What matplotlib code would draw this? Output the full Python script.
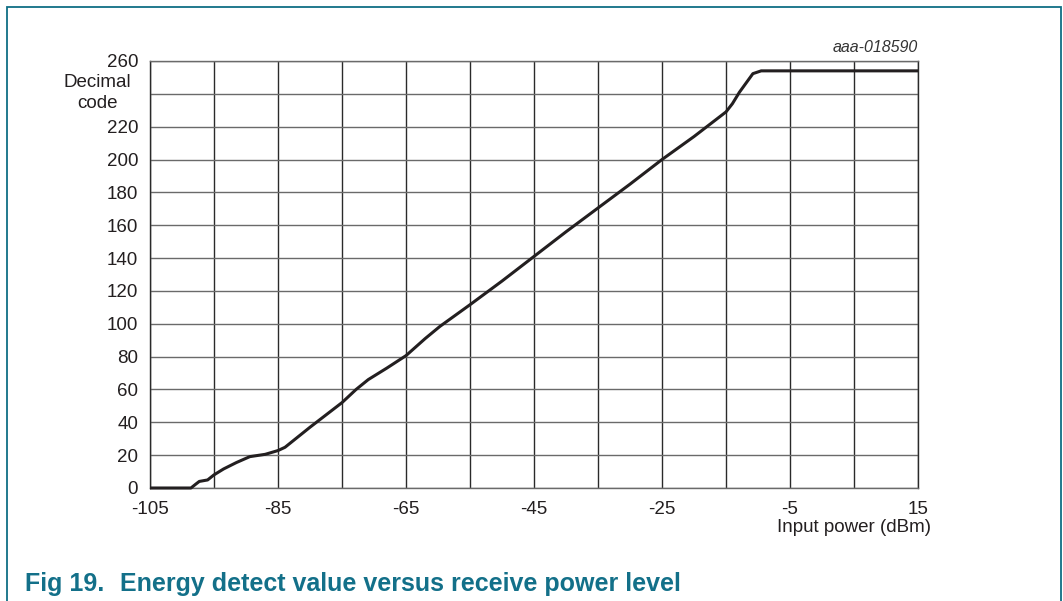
import matplotlib
matplotlib.use("Agg")
import matplotlib.pyplot as plt
from matplotlib.patches import Rectangle

plt.rcParams['font.family'] = ['Liberation Sans', 'DejaVu Sans']

# Data
power_dbm = [-105, -98.6, -97.8, -97.3, -96.0, -95.0, -93.5, -91.5, -89.4, -87.0,
             -85.0, -83.9, -80.0, -75.0, -72.8, -70.9, -68.0, -65.0, -62.0, -59.7,
             -55.0, -50.0, -45.0, -40.0, -35.0, -30.0, -25.0, -20.0, -18.0, -15.0,
             -14.0, -12.9, -10.8, -9.5, -8.5, 15.0]
decimal_code = [0, 0, 2.5, 4, 4.9, 8, 11.6, 15.5, 19.1, 20.5,
                22.8, 24.8, 37, 52, 60, 66, 73, 80.6, 91, 98.4,
                111.6, 126, 141, 156, 170.5, 185, 200, 214, 220, 229,
                234, 241, 252.3, 254, 254, 254]

x_ticks = list(range(-105, 16, 10))
x_labels = ['-105', '', '-85', '', '-65', '', '-45', '', '-25', '', '-5', '', '15']
y_ticks = list(range(0, 261, 20))
y_labels = ['0', '20', '40', '60', '80', '100', '120', '140', '160', '180', '200', '220', '', '260']

W, H = 1063, 601
fig = plt.figure(figsize=(W / 100, H / 100), dpi=100)

def fx(px):
    return px / W

def fy(py):
    return 1 - py / H

ax = fig.add_axes([fx(150), fy(488), (918 - 150) / W, (488 - 61) / H])
ax.set_xlim(-105, 15)
ax.set_ylim(0, 260)

ax.set_xticks(x_ticks)
ax.set_xticklabels(x_labels)
ax.set_yticks(y_ticks)
ax.set_yticklabels(y_labels)
ax.tick_params(axis='both', length=0, labelsize=13.5, labelcolor='#231F20')
ax.tick_params(axis='y', pad=8.5)
ax.tick_params(axis='x', pad=9)

ax.grid(axis='x', color='#2a2a2a', linewidth=1.0)
ax.grid(axis='y', color='#6a6a6a', linewidth=1.0)
ax.set_axisbelow(True)
for s in ['top', 'bottom']:
    ax.spines[s].set_color('#6a6a6a')
    ax.spines[s].set_linewidth(1.0)
for s in ['left', 'right']:
    ax.spines[s].set_color('#2a2a2a')
    ax.spines[s].set_linewidth(1.0)

ax.plot(power_dbm, decimal_code, color='#231F20', linewidth=2.2,
        solid_joinstyle='round', solid_capstyle='butt', clip_on=False, zorder=3)

# Axis titles
fig.text(fx(97), fy(93), 'Decimal\ncode', ha='center', va='center',
         fontsize=13.5, color='#231F20', linespacing=1.3)
fig.text(fx(931), fy(527), 'Input power (dBm)', ha='right', va='center',
         fontsize=13.5, color='#231F20')
fig.text(fx(918), fy(52), 'aaa-018590', ha='right', va='baseline',
         fontsize=11.5, style='italic', color='#333333')

# Caption
cap_color = '#137089'
fig.text(fx(25), fy(591), 'Fig 19.', ha='left', va='baseline',
         fontsize=18, fontweight='bold', color=cap_color)
fig.text(fx(120), fy(591), 'Energy detect value versus receive power level',
         ha='left', va='baseline', fontsize=18, fontweight='bold', color=cap_color)

# Frame around the figure (open at the bottom edge)
border = Rectangle((fx(7), fy(640)), fx(1061) - fx(7), fy(7) - fy(640),
                   transform=fig.transFigure, fill=False,
                   edgecolor='#0F6E85', linewidth=1.3, clip_on=False)
fig.add_artist(border)

fig.savefig('out.png', dpi=100)
